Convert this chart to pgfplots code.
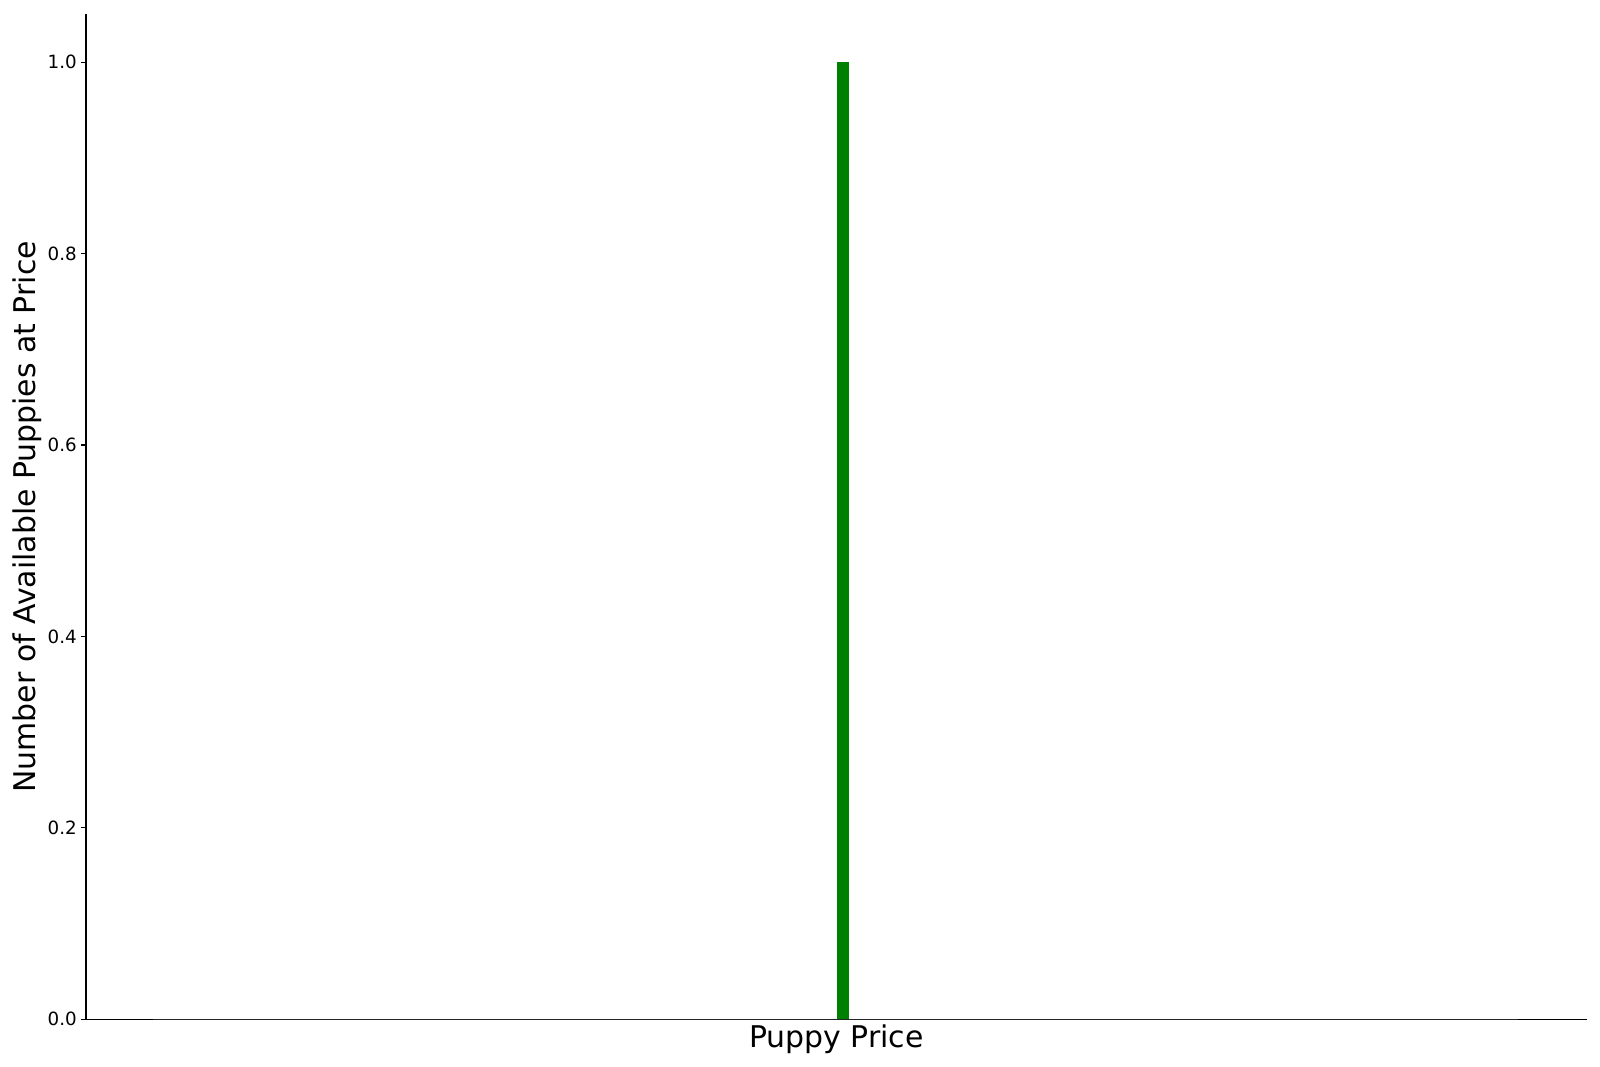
\documentclass[border=0pt]{standalone}
\usepackage{pgfplots}
\pgfplotsset{compat=1.18}
\usepackage{fontspec}
\setmainfont{DejaVu Sans}
\definecolor{barg}{RGB}{0,128,0}
\begin{document}
\begin{tikzpicture}
\begin{axis}[
  name=main,
  scale only axis,
  width=1080.5bp, height=723.6bp,
  xmin=86, xmax=1587,
  ymin=0, ymax=1.05,
  axis lines=left,
  axis line style={-, line width=0.8pt, black},
  xtick=\empty,
  ytick={0,0.2,0.4,0.6,0.8,1},
  yticklabels={0.0,0.2,0.4,0.6,0.8,1.0},
  tick align=outside,
  major tick length=3.5pt,
  tick style={black, line width=0.8pt},
  /pgf/number format/assume math mode=true,
  yticklabel style={font=\fontsize{13.2}{15}\selectfont, inner sep=0pt, xshift=-3bp},
  ylabel={Number of Available Puppies at Price},
  xlabel={Puppy Price},
  label style={font=\fontsize{21.6}{26}\selectfont},
  ylabel style={at={(axis description cs:-0.029,0.5)}, anchor=south, inner sep=0pt},
  xlabel style={at={(axis description cs:0.5,0)}, anchor=north, inner sep=0pt, yshift=-4bp},
  clip=false,
]
\addplot[black!85, line width=1.0pt] coordinates {(153,0) (1518,0)};
\addplot[ybar, bar width=12.6, fill=barg, draw=none] coordinates {(843,1)};
\end{axis}
\pgfresetboundingbox
\path[use as bounding box] (main.south west) ++(-61.9bp,-34.34bp) rectangle ++(1152bp,768.24bp);
\end{tikzpicture}
\end{document}
